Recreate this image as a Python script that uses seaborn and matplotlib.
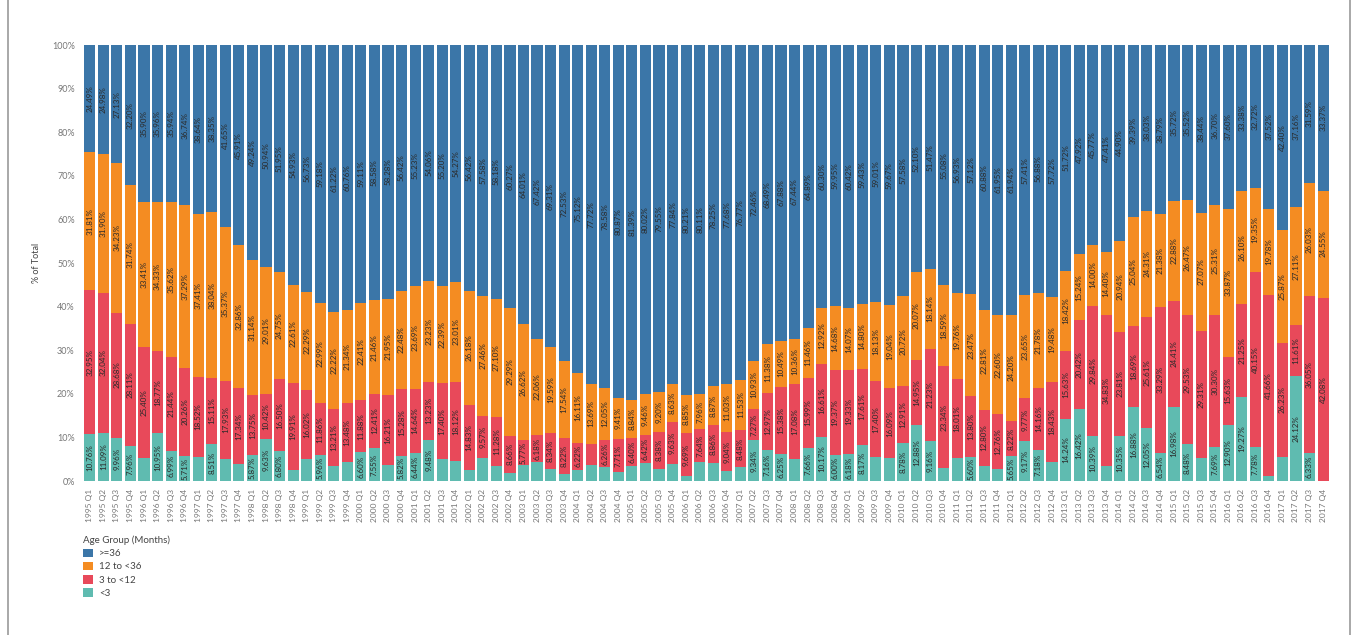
import numpy as np
import pandas as pd
import matplotlib
matplotlib.use("Agg")
import matplotlib.pyplot as plt
from matplotlib.patches import Patch
from matplotlib.lines import Line2D
import seaborn as sns

years = list(range(1995, 2018))
quarters = ["%d Q%d" % (y, q) for y in years for q in range(1, 5)]

# % of total per age group (months)
ge36 = [24.49, 24.98, 27.13, 32.20, 35.90, 35.96, 35.94, 36.74, 38.64, 38.35, 41.65, 45.91,
        49.24, 50.94, 51.95, 54.93, 56.73, 59.18, 61.22, 60.76, 59.11, 58.58, 58.28, 56.42,
        55.23, 54.06, 55.20, 54.27, 56.42, 57.58, 58.18, 60.27, 64.01, 67.42, 69.31, 72.53,
        75.12, 77.72, 78.58, 80.87, 81.39, 80.02, 79.55, 77.84, 80.21, 80.11, 78.25, 77.68,
        76.77, 72.46, 68.49, 67.88, 67.44, 64.89, 60.30, 59.95, 60.42, 59.43, 59.01, 59.67,
        57.58, 52.10, 51.47, 55.08, 56.93, 57.12, 60.88, 61.95, 61.94, 57.41, 56.88, 57.72,
        51.72, 47.92, 45.77, 47.41, 44.90, 39.39, 38.03, 38.79, 35.72, 35.52, 38.44, 36.70,
        37.60, 33.38, 32.72, 37.52, 42.40, 37.16, 31.59, 33.37]
m12_36 = [31.81, 31.90, 34.23, 31.74, 33.41, 34.33, 35.62, 37.29, 37.41, 38.04, 35.37, 32.86,
          31.14, 29.01, 24.75, 22.61, 22.29, 22.99, 22.22, 21.34, 22.41, 21.46, 21.95, 22.48,
          23.69, 23.23, 22.39, 23.01, 26.18, 27.46, 27.10, 29.29, 26.62, 22.06, 19.59, 17.54,
          16.11, 13.69, 12.05, 9.41, 8.84, 9.46, 9.20, 8.63, 8.85, 7.96, 8.87, 11.03,
          11.53, 10.93, 11.38, 10.49, 10.36, 11.46, 12.92, 14.68, 14.07, 14.80, 18.13, 19.04,
          20.72, 20.07, 18.14, 18.59, 19.76, 23.47, 22.81, 22.60, 24.20, 23.65, 21.78, 19.48,
          18.42, 15.24, 14.00, 14.40, 20.94, 25.04, 24.31, 21.38, 22.88, 26.47, 27.07, 25.31,
          33.87, 26.10, 19.35, 19.78, 25.87, 27.11, 26.03, 24.55]
m3_12 = [32.95, 32.04, 28.68, 28.11, 25.40, 18.77, 21.44, 20.26, 18.52, 15.11, 17.93, 17.34,
         13.75, 10.42, 16.50, 19.91, 16.02, 11.86, 13.21, 13.48, 11.88, 12.41, 16.21, 15.28,
         14.64, 13.23, 17.40, 18.12, 14.83, 9.57, 11.28, 8.66, 5.77, 6.18, 8.34, 8.22,
         6.22, 5.00, 6.26, 7.71, 6.40, 6.42, 8.38, 9.63, 9.69, 7.64, 8.86, 9.04,
         8.48, 7.27, 12.97, 15.38, 17.08, 15.99, 16.61, 19.37, 19.33, 17.61, 17.40, 16.09,
         12.91, 14.95, 21.23, 23.34, 18.01, 13.80, 12.80, 12.76, 8.22, 9.77, 14.16, 18.43,
         15.63, 20.42, 29.84, 34.83, 23.81, 18.69, 25.61, 33.29, 24.41, 29.53, 29.31, 30.30,
         15.63, 21.25, 40.15, 41.66, 26.23, 11.61, 36.05, 42.08]
lt3 = [10.76, 11.09, 9.96, 7.96, 5.29, 10.95, 6.99, 5.71, 5.43, 8.51, 5.05, 3.89,
       5.87, 9.63, 6.80, 2.55, 4.96, 5.96, 3.35, 4.42, 6.60, 7.55, 3.56, 5.82,
       6.44, 9.48, 5.01, 4.60, 2.57, 5.39, 3.44, 1.78, 3.60, 4.34, 2.76, 1.71,
       2.55, 3.59, 3.11, 2.01, 3.37, 4.10, 2.87, 3.90, 1.25, 4.29, 4.02, 2.25,
       3.22, 9.34, 7.16, 6.25, 5.12, 7.66, 10.17, 6.00, 6.18, 8.17, 5.46, 5.20,
       8.78, 12.88, 9.16, 2.99, 5.30, 5.60, 3.51, 2.69, 5.65, 9.17, 7.18, 4.37,
       14.24, 16.42, 10.39, 3.36, 10.35, 16.88, 12.05, 6.54, 16.98, 8.48, 5.18, 7.69,
       12.90, 19.27, 7.78, 1.04, 5.50, 24.12, 6.33, 0.00]

groups = [">=36", "12 to <36", "3 to <12", "<3"]
colors = {">=36": "#3b76a8", "12 to <36": "#f48c22", "3 to <12": "#e8495a", "<3": "#5fbbb0"}

df = pd.DataFrame({"quarter": quarters, "<3": lt3, "3 to <12": m3_12,
                   "12 to <36": m12_36, ">=36": ge36})

sns.set_style("white")
plt.rcParams["font.family"] = ["Lato", "DejaVu Sans"]

fig = plt.figure(figsize=(13.57, 6.35), dpi=100)
ax = fig.add_axes([0.0612, 0.2425, 0.9188, 0.6865])

# stacked bars: draw cumulative totals from the top group down
stack_order = ["<3", "3 to <12", "12 to <36", ">=36"]
cum = df[stack_order].cumsum(axis=1)
for g in reversed(stack_order):
    sns.barplot(x=df["quarter"], y=cum[g], color=colors[g], saturation=1,
                width=0.82, order=quarters, ax=ax, linewidth=0)

# value labels
bottoms = np.zeros(len(df))
for g in stack_order:
    vals = df[g].values
    for i, v in enumerate(vals):
        if v >= 5.55:
            ax.text(i, bottoms[i] + v / 2, "%.2f%%" % v, rotation=90,
                    ha="center", va="center", fontsize=5.8, color="#2a2a2a")
    bottoms += vals

ax.set_xlim(-0.5, len(quarters) - 0.5)
ax.set_ylim(0, 100)
ax.set_yticks(range(0, 101, 10))
ax.set_yticklabels(["%d%%" % t for t in range(0, 101, 10)], fontsize=6.5, color="#777777")
ax.set_xticks(range(len(quarters)))
ax.set_xticklabels(quarters, rotation=90, fontsize=6, color="#777777")
ax.tick_params(axis="both", length=0, pad=6)
ax.set_xlabel("")
ax.set_ylabel("% of Total", fontsize=6.5, color="#444444", labelpad=8)
sns.despine(ax=ax, left=True, bottom=True)

handles = [Patch(facecolor=colors[g], edgecolor="none") for g in groups]
leg = fig.legend(handles, groups, title="Age Group (Months)", loc="upper left",
                 bbox_to_anchor=(0.055, 1 - 527 / 635), frameon=False, fontsize=7,
                 title_fontsize=7, handlelength=1.0, handleheight=1.0,
                 handletextpad=0.6, labelspacing=0.35, alignment="left")
for t in leg.get_texts():
    t.set_color("#444444")
leg.get_title().set_color("#444444")

# page frame lines
for xf in (8 / 1357, 1350 / 1357):
    fig.add_artist(Line2D([xf, xf], [0, 1], transform=fig.transFigure,
                          color="#999999", lw=1.2))

fig.savefig("out.png", dpi=100)
